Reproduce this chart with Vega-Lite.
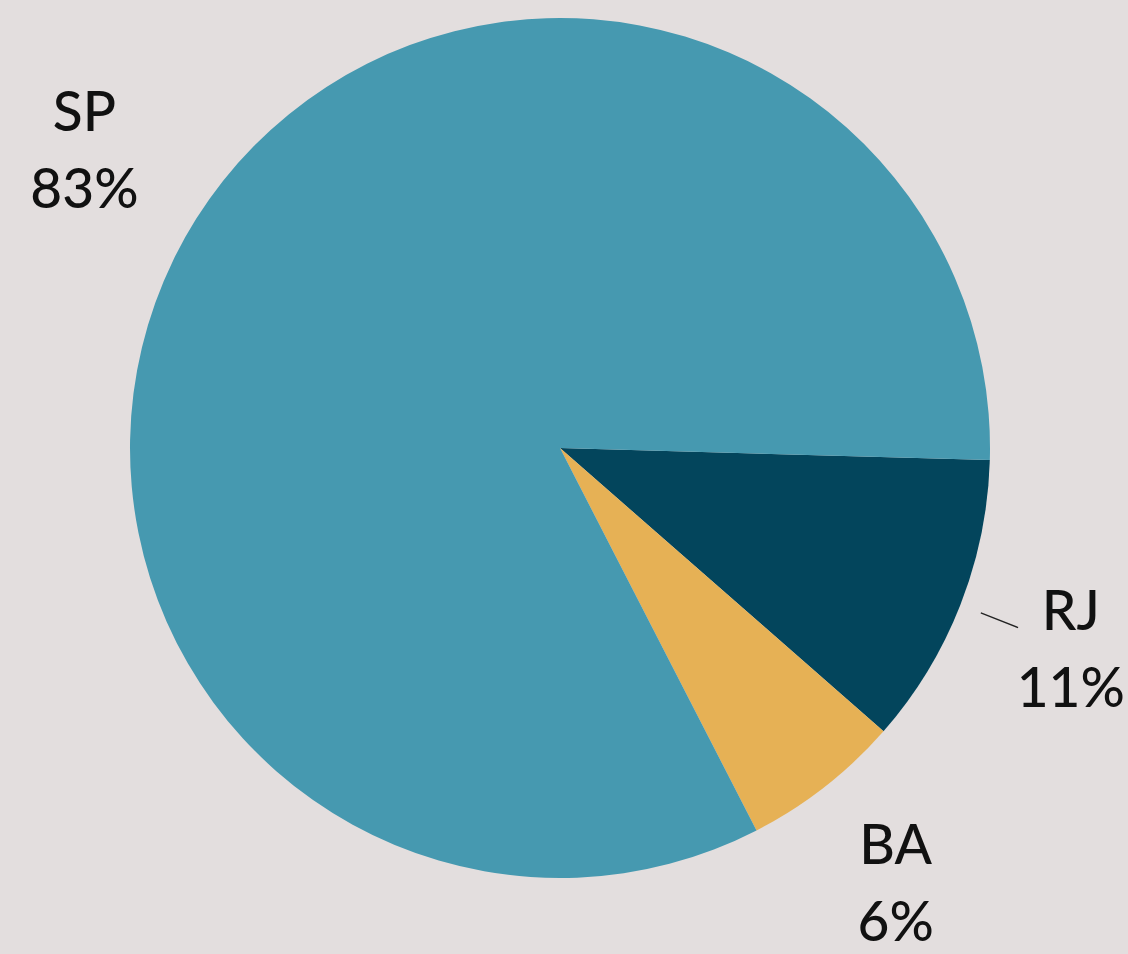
{
  "$schema": "https://vega.github.io/schema/vega-lite/v6.json",
  "width": 1120,
  "height": 896,
  "autosize": "none",
  "padding": {"left": 0, "top": 0, "right": 8, "bottom": 58},
  "background": "#e3dede",
  "config": {"view": {"stroke": null}},
  "data": {
    "values": [
      {"state": "RJ", "pct": 11, "ord": 1, "label": "RJ\n11%"},
      {"state": "BA", "pct": 6, "ord": 2, "label": "BA\n6%"},
      {"state": "SP", "pct": 83, "ord": 3, "label": "SP\n83%"}
    ]
  },
  "encoding": {
    "theta": {"field": "pct", "type": "quantitative", "stack": true, "scale": {"range": [1.5988, 7.882]}},
    "order": {"field": "ord", "type": "quantitative"}
  },
  "layer": [
    {
      "mark": {"type": "arc", "radius": 430},
      "encoding": {
        "color": {"field": "state", "type": "nominal", "legend": null,
          "scale": {"domain": ["SP", "RJ", "BA"], "range": ["#4699b0", "#03455c", "#e6b155"]}}
      }
    },
    {
      "mark": {"type": "arc", "radius": 492, "radius2": 452, "padAngle": 1, "fillOpacity": 0, "stroke": "#222222", "strokeWidth": 1.3},
      "encoding": {
        "strokeOpacity": {"condition": {"test": "datum.state === 'RJ'", "value": 1}, "value": 0}
      }
    },
    {
      "mark": {"type": "text", "radius": 555, "dx": -6, "dy": -38, "fontSize": 55, "lineHeight": 77, "lineBreak": "\n", "font": "Lato", "fontWeight": 500, "color": "#111111", "align": "center", "baseline": "middle"},
      "encoding": {
        "text": {"field": "label", "type": "nominal"}
      }
    }
  ]
}
